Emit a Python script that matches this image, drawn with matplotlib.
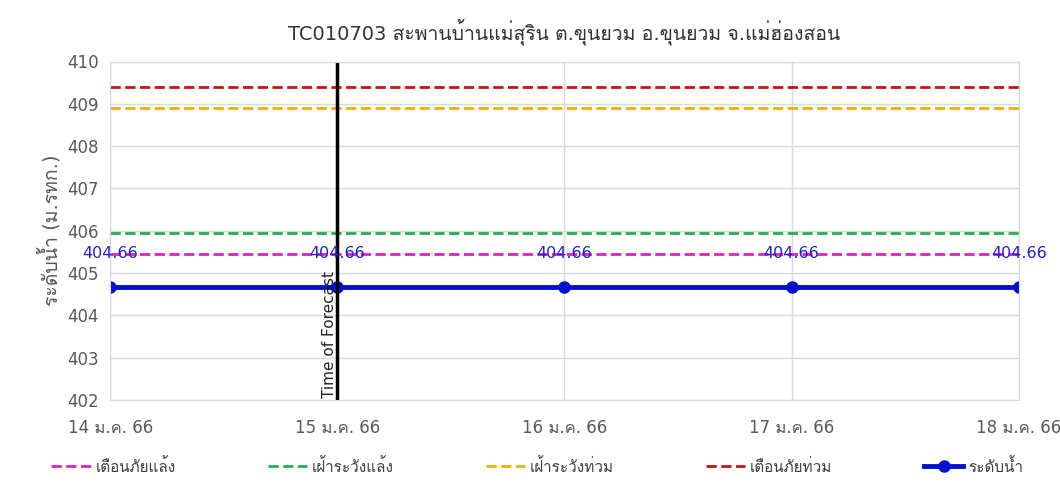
import numpy as np
import matplotlib
matplotlib.use('Agg')
import matplotlib.pyplot as plt
from matplotlib import font_manager
from datetime import datetime

# look for an installed font with Thai glyphs, preferring a proportional one
thai_font = None
try:
    from fontTools.ttLib import TTFont
    found = []
    for path in font_manager.findSystemFonts():
        try:
            f = TTFont(path, fontNumber=0, lazy=True)
            cmap = f.getBestCmap()
            if cmap and 0x0E01 in cmap and 0x0E49 in cmap:
                found.append(path)
        except Exception:
            pass
    found.sort(key=lambda p: ('mono' in p.lower(), 'bold' in p.lower(), p))
    if found:
        font_manager.fontManager.addfont(found[0])
        thai_font = font_manager.FontProperties(fname=found[0]).get_name()
except Exception:
    pass

families = ['DejaVu Sans']
if thai_font:
    families = ['DejaVu Sans', thai_font]
plt.rcParams['font.family'] = families

dates = [datetime(2023, 1, d) for d in [14, 15, 16, 17, 18]]
level = [404.66, 404.66, 404.66, 404.66, 404.66]
tick_labels = ['14 ม.ค. 66', '15 ม.ค. 66', '16 ม.ค. 66', '17 ม.ค. 66', '18 ม.ค. 66']

warn_dry = 405.45      # เตือนภัยแล้ง
watch_dry = 405.95     # เฝ้าระวังแล้ง
watch_flood = 408.9    # เฝ้าระวังท่วม
warn_flood = 409.4     # เตือนภัยท่วม
forecast_time = datetime(2023, 1, 15)

fig = plt.figure(figsize=(10.6, 5.0), dpi=100)
ax = fig.add_axes([0.104, 0.2, 0.857, 0.677])

ax.plot(dates, [warn_dry] * len(dates), color='#e020c0', linestyle='--', linewidth=2, label='เตือนภัยแล้ง')
ax.plot(dates, [watch_dry] * len(dates), color='#20b050', linestyle='--', linewidth=2, label='เฝ้าระวังแล้ง')
ax.plot(dates, [watch_flood] * len(dates), color='#f0b000', linestyle='--', linewidth=2, label='เฝ้าระวังท่วม')
ax.plot(dates, [warn_flood] * len(dates), color='#d01010', linestyle='--', linewidth=2, label='เตือนภัยท่วม')
ax.plot(dates, level, color='#0010d0', linewidth=3.5, marker='o', markersize=8, label='ระดับน้ำ')

for d, v in zip(dates, level):
    ax.annotate(f'{v:.2f}', (d, v), xytext=(0, 19), textcoords='offset points',
                ha='center', va='bottom', color='#2020d0', fontsize=11.5)

ax.axvline(forecast_time, color='black', linewidth=2.5)
ax.text(forecast_time, 402.05, 'Time of Forecast', rotation=90, ha='right', va='bottom',
        fontsize=11, color='#222222')

ax.set_ylim(402, 410)
ax.set_yticks(range(402, 411))
ax.set_xlim(dates[0], dates[-1])
ax.set_xticks(dates)
ax.set_xticklabels(tick_labels)
ax.grid(True, color='#d9d9d9', linewidth=1)
ax.set_axisbelow(True)
for s in ax.spines.values():
    s.set_color('#d9d9d9')
ax.tick_params(length=0, labelsize=12, colors='#595959', pad=14)
ax.tick_params(axis='y', pad=8)

ax.set_ylabel('ระดับน้ำ (ม.รทก.)', fontsize=14, color='#595959')
ax.set_title('TC010703 สะพานบ้านแม่สุริน ต.ขุนยวม อ.ขุนยวม จ.แม่ฮ่องสอน', fontsize=14,
             color='#333333', pad=16)

ax.legend(loc='upper center', bbox_to_anchor=(0.47, -0.13), ncol=5, frameon=False,
          fontsize=11, handlelength=2.6, columnspacing=6, handletextpad=0.3, labelcolor='#404040')

fig.savefig('out.png', dpi=100, facecolor='white')
